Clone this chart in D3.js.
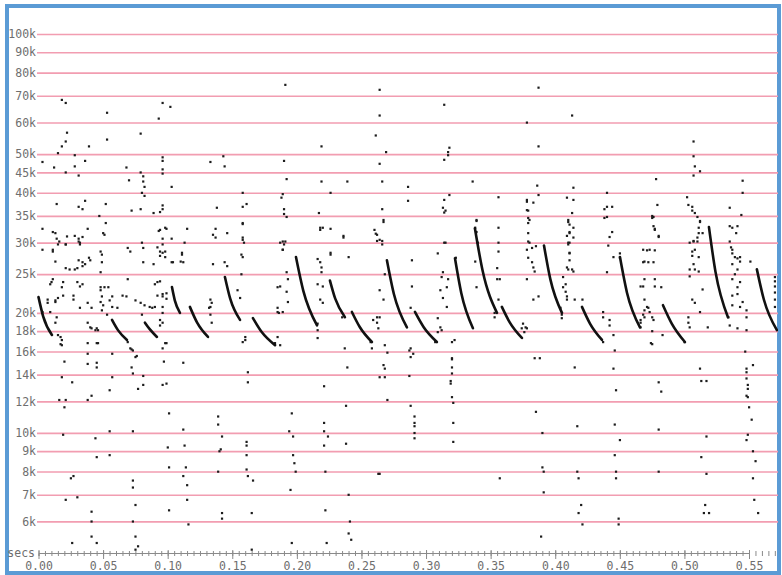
<!DOCTYPE html>
<html>
<head>
<meta charset="utf-8">
<script src="https://cdn.jsdelivr.net/npm/d3@7"></script>
<style>
  html, body { margin: 0; padding: 0; background: #fff; }
  svg { display: block; }
</style>
</head>
<body>
<div class="chart"></div>
<script>
// frequency gridlines (kHz) and time ticks (s)
const freqTicks = [100, 90, 80, 70, 60, 50, 45, 40, 35, 30, 25, 20, 18, 16, 14, 12, 10, 9, 8, 7, 6]
const timeTicks = [0, 0.05, 0.1, 0.15, 0.2, 0.25, 0.3, 0.35, 0.4, 0.45, 0.5, 0.55]
const timeMinorTicks = [
  0, 0.005, 0.01, 0.015, 0.02, 0.025, 0.03, 0.035, 0.04, 0.045, 0.05, 0.055, 0.06, 0.065, 0.07, 0.075,
  0.08, 0.085, 0.09, 0.095, 0.1, 0.105, 0.11, 0.115, 0.12, 0.125, 0.13, 0.135, 0.14, 0.145, 0.15,
  0.155, 0.16, 0.165, 0.17, 0.175, 0.18, 0.185, 0.19, 0.195, 0.2, 0.205, 0.21, 0.215, 0.22, 0.225,
  0.23, 0.235, 0.24, 0.245, 0.25, 0.255, 0.26, 0.265, 0.27, 0.275, 0.28, 0.285, 0.29, 0.295, 0.3,
  0.305, 0.31, 0.315, 0.32, 0.325, 0.33, 0.335, 0.34, 0.345, 0.35, 0.355, 0.36, 0.365, 0.37, 0.375,
  0.38, 0.385, 0.39, 0.395, 0.4, 0.405, 0.41, 0.415, 0.42, 0.425, 0.43, 0.435, 0.44, 0.445, 0.45,
  0.455, 0.46, 0.465, 0.47, 0.475, 0.48, 0.485, 0.49, 0.495, 0.5, 0.505, 0.51, 0.515, 0.52, 0.525,
  0.53, 0.535, 0.54, 0.545, 0.55, 0.555, 0.56, 0.565, 0.57
]

// echolocation calls: [secs, kHz] start / middle / end
const calls = [
  [[0.0000, 21.9], [0.0036, 19.6], [0.0104, 17.6]],
  [[0.0569, 19.2], [0.0615, 18.1], [0.0685, 17.1]],
  [[0.0824, 18.9], [0.0861, 18.2], [0.0917, 17.4]],
  [[0.1033, 23.2], [0.1055, 21.5], [0.1095, 20.0]],
  [[0.1172, 20.7], [0.1228, 18.9], [0.1312, 17.4]],
  [[0.1443, 24.6], [0.1484, 21.7], [0.1560, 19.2]],
  [[0.1660, 19.4], [0.1728, 17.9], [0.1831, 16.6]],
  [[0.1993, 27.6], [0.2050, 22.7], [0.2156, 18.6]],
  [[0.2256, 24.1], [0.2297, 21.7], [0.2372, 19.5]],
  [[0.2426, 20.1], [0.2488, 18.4], [0.2581, 16.9]],
  [[0.2697, 27.1], [0.2751, 22.3], [0.2852, 18.4]],
  [[0.2914, 20.1], [0.2982, 18.4], [0.3084, 16.9]],
  [[0.3224, 27.4], [0.3273, 22.4], [0.3363, 18.3]],
  [[0.3378, 32.6], [0.3438, 25.5], [0.3549, 20.0]],
  [[0.3587, 20.7], [0.3649, 18.9], [0.3742, 17.3]],
  [[0.3913, 29.5], [0.3962, 24.3], [0.4052, 20.0]],
  [[0.4207, 20.7], [0.4269, 18.8], [0.4362, 17.1]],
  [[0.4501, 27.6], [0.4555, 22.5], [0.4656, 18.4]],
  [[0.4834, 20.9], [0.4902, 18.8], [0.5004, 16.9]],
  [[0.5190, 32.8], [0.5241, 25.3], [0.5337, 19.5]],
  [[0.5561, 25.7], [0.5615, 21.6], [0.5716, 18.1]]
]

// scattered noise points [secs, kHz]
const dotsHigh = [
  [0.018,68.4],[0.021,67.2],[0.053,63.5],[0.096,67.2],[0.102,65.7],[0.093,61.4],[0.191,74.6],[0.264,72.5],[0.264,62.5],
  [0.022,56.6],[0.021,53.8],[0.018,52.3],[0.039,52.3],[0.053,54.4],[0.079,56.3],[0.015,50.3],[0.028,49.7],[0.028,46.6],
  [0.003,47.8],[0.012,46.3],[0.036,48.1],[0.021,45],[0.031,44.2],[0.068,46.3],[0.070,43],[0.079,45],[0.081,44],[0.081,42.7],
  [0.082,41.4],[0.080,40],[0.082,39.3],[0.096,49.1],[0.096,48.1],[0.096,45.8],[0.096,44.7],[0.103,41.4],[0.133,47.8],
  [0.143,49.4],[0.144,46.6],[0.158,40],[0.190,48.1],[0.192,43.3],[0.219,52.3],[0.219,42.7],[0.239,42.7],[0.226,40],
  [0.266,42.7],[0.264,47.3],[0.269,50.6],[0.261,55.7],
  [0.014,37.5],[0.036,38.2],[0.031,36.9],[0.034,36.4],[0.052,37.5],[0.079,36.4],[0.096,37.2],[0.096,36.4],[0.094,35.8],
  [0.089,35.6],[0.072,36.1],[0.047,35],[0.138,36.7],[0.158,36.9],[0.161,37.5],[0.188,38.9],[0.189,39.7],[0.190,36.4],
  [0.190,35.4],[0.192,34.8],[0.217,35.6],[0.266,36.4],[0.267,34.2],
  [0.003,32.5],[0.011,31.9],[0.013,31.7],[0.014,30.7],[0.016,30.2],[0.028,31.2],[0.031,30.7],[0.032,30],[0.034,31],
  [0.021,29.7],[0.050,31.7],[0.051,31.4],[0.052,33.6],[0.038,32.5],[0.093,32.1],[0.096,30.7],[0.096,29.7],[0.099,32.5],
  [0.103,30.7],[0.115,32.5],[0.080,30],[0.081,29.1],[0.137,32.5],[0.137,30.9],[0.146,31.7],[0.158,30.9],[0.159,30],
  [0.158,33.6],[0.189,30.2],[0.190,29.7],[0.189,28.8],[0.218,32.7],[0.226,32.5],[0.236,31.2],[0.260,32.3],[0.261,31.6],
  [0.262,30.3],[0.266,30.3],[0.267,33.8],[0.022,31.1],
  [0.387,73.4],[0.314,66.5],[0.413,62.5],[0.378,60],[0.387,52.3],[0.318,51.9],[0.317,50.6],[0.317,49.7],[0.314,48.4],
  [0.507,53.8],[0.507,49.4],[0.508,46.6],[0.512,45.3],[0.507,44.2],[0.286,41.4],[0.286,38.2],[0.336,42.7],[0.386,41.7],
  [0.387,39.5],[0.318,39.5],[0.314,38.4],[0.314,35.7],[0.315,36.1],[0.356,39],[0.378,38],[0.383,37.8],[0.378,36.2],
  [0.380,34.2],[0.379,33.6],[0.379,31.7],[0.380,30],[0.409,38.9],[0.413,35.6],[0.410,33.8],[0.414,32.7],[0.411,31.9],
  [0.409,31.2],[0.411,30],[0.414,41.2],[0.440,40],[0.438,36.4],[0.440,34.8],[0.444,36.9],[0.444,31.9],[0.442,31],
  [0.478,43.3],[0.479,37.3],[0.475,35],[0.476,33],[0.477,32.5],[0.480,31.2],[0.502,39],[0.503,37.3],[0.506,36.1],
  [0.508,35.6],[0.510,34.8],[0.512,34],[0.511,32.7],[0.514,31.7],[0.510,30.9],[0.507,30.3],[0.504,30],[0.545,42.9],
  [0.545,40],[0.535,36.7],[0.544,35.2],[0.535,33],[0.541,33],[0.540,31.7],[0.535,30.2],[0.314,30],[0.315,30],[0.356,30],
  [0.356,32.7],[0.339,34],[0.410,30],
  [0.476,34.8],[0.475,34.6],[0.477,32.3],[0.480,31],[0.506,36.9],[0.512,33.8],[0.511,31.7],[0.510,30.2],[0.507,30.2],
  [0.537,32.7],[0.094,32.3],[0.098,32.7],[0.113,30],[0.135,31.4],[0.158,30.5],[0.158,33.4],[0.187,30],[0.191,30.2],
  [0.218,32.3],[0.220,32.7],[0.236,30.9],[0.262,31.4],[0.264,30.5],
  [0.313,36.7],[0.339,34.2],[0.338,32.7],[0.339,31.9],[0.340,30],[0.378,38.4],[0.379,36.1],[0.379,34.6],[0.379,30.2],
  [0.410,34.2],[0.411,33.3],[0.411,31.7],[0.414,30.9],[0.414,38.4],[0.440,36.9],[0.438,34.6]
]

const dotsMid = [
  [0.003,28.8],[0.011,28.8],[0.048,28.5],[0.069,29.1],[0.071,28.5],[0.094,27.8],[0.111,28],[0.039,27.5],[0.158,27.6],
  [0.216,27.3],[0.226,28],[0.240,27.6],
  [0.382,29.1],[0.385,29.4],[0.379,27.5],[0.411,28.2],[0.441,29.5],[0.445,27.6],[0.450,28.2],[0.450,27.5],[0.468,28.8],
  [0.473,28.8],[0.477,28.7],[0.508,28.8],[0.506,27.8],[0.536,29.2],[0.537,28.2],[0.539,27.6],[0.543,27.6],[0.309,28.2],
  [0.323,27.5],[0.356,28.5],
  [0.471,28.7],[0.468,26.8],[0.472,26.8],[0.476,26.8],[0.469,24.3],[0.468,23.3],[0.477,24.3],[0.477,23.3],[0.482,23.2],
  [0.469,21.6],[0.471,20.7],[0.472,20.6],[0.473,20.1],[0.469,19.5],[0.475,19.5],[0.466,18.9],[0.476,19.2],[0.475,18],
  [0.483,17.6],[0.475,16.7],
  [0.506,28.5],[0.511,27.6],[0.507,26.5],[0.508,25.7],[0.504,25.7],[0.511,25.4],[0.504,24.7],[0.514,22.9],[0.506,21.6],
  [0.508,21.2],[0.503,19.5],[0.503,18.9],[0.504,18.4],[0.518,18.4],[0.512,20.1],
  [0.537,28.8],[0.541,27.4],[0.543,26.9],[0.537,26.5],[0.541,25.7],[0.539,25],[0.537,24.3],[0.543,23.9],[0.541,23.2],
  [0.541,22.3],[0.537,22.1],[0.545,21.3],[0.537,20.9],[0.543,20.7],[0.548,20.3],[0.534,19.5],[0.548,19.5],[0.535,18.6],
  [0.541,18.3],[0.548,18.1],[0.551,26.9],
  [0.570,24.6],[0.570,24],[0.570,23.3],[0.570,22.5],[0.570,21.6],[0.570,20.7],
  [0.015,29.7],[0.021,29.7],[0.032,29.7],[0.031,30.2],[0.011,28.5],[0.049,28],[0.092,29.2],[0.096,28.3],[0.098,28.5],
  [0.013,26.9],[0.021,25.9],[0.024,25.7],[0.034,26.8],[0.034,26.2],[0.036,26.5],[0.030,25.9],[0.049,26.8],[0.048,25.3],
  [0.081,26.8],[0.089,26.5],[0.104,26.8],[0.011,24.3],[0.010,23.9],[0.009,23.6],[0.019,23.9],[0.030,23.9],[0.032,23.3],
  [0.019,22.1],[0.027,22.1],[0.048,23.2],[0.051,23.2],[0.054,23.2],[0.049,22],[0.057,22],[0.055,21.5],[0.069,24.3],
  [0.065,22.1],[0.068,22],[0.075,21.5],[0.090,23.6],[0.092,23.9],[0.092,22.1],[0.096,22],[0.099,21.7],[0.007,21.6],
  [0.007,21.2],[0.013,21.3],[0.015,21.8],[0.027,21.6],[0.038,21.2],[0.032,20.6],[0.048,21.3],[0.050,20.9],[0.049,20.3],
  [0.057,20.7],[0.061,20.6],[0.079,21.2],[0.082,20.9],[0.086,20.7],[0.088,20.6],[0.090,20.7],[0.003,20.1],[0.009,20.1],
  [0.053,19.8],[0.080,19.8],[0.096,20],[0.014,19.5],[0.013,18.9],[0.038,18.9],[0.040,18.4],[0.041,18.3],[0.044,18.1],
  [0.046,18.1],[0.094,18.6],[0.096,18.9],[0.017,17.4],[0.018,17.1],[0.038,16.8],[0.071,16.3],[0.073,16.1],[0.096,16.3],
  [0.040,27.1],[0.031,27.1],[0.028,25.7],[0.018,23.2],[0.034,23.6],[0.048,22.8],[0.013,21.5],[0.041,20.6],[0.045,18.3],
  [0.015,17.6],[0.018,16.6],[0.046,16.8],
  [0.094,28.5],[0.098,27.6],[0.094,24],[0.096,20.7],[0.094,19.2],[0.098,16.8],[0.096,22.3],[0.099,22.4],[0.111,28.3],
  [0.110,26.9],[0.112,26.8],[0.103,26.8],[0.135,26.5],[0.133,21.6],[0.134,21.2],[0.133,20.7],[0.133,19.8],[0.134,18.9],
  [0.132,20.6],[0.144,26.8],[0.146,26.2],[0.157,28],[0.157,25],[0.156,21.8],[0.160,17.4],[0.160,17.1],[0.154,22.8],
  [0.189,28.8],[0.192,25.3],[0.187,23.3],[0.185,23.2],[0.192,22.6],[0.193,21.3],[0.185,20.6],[0.185,20.1],[0.186,20],
  [0.189,20.1],[0.193,24.3],[0.185,17.4],[0.187,16.6],[0.218,26.8],[0.219,26],[0.219,25.3],[0.226,28.3],[0.218,21.6],
  [0.220,21.2],[0.216,23.6],[0.220,23.3],[0.216,18.8],[0.216,18.1],[0.216,17.3],[0.237,16.3],[0.235,19.5],[0.266,29.7],
  [0.268,25],[0.264,22.8],[0.267,21.6],[0.262,19.5],[0.262,18.9],[0.264,19.5],[0.259,19.2],[0.263,18.3],
  [0.289,27.1],[0.289,23.3],[0.288,20.6],[0.288,16.3],[0.313,25.3],[0.312,24.6],[0.317,24.3],[0.311,22.8],[0.316,23.2],
  [0.313,21.8],[0.316,20.7],[0.309,19.4],[0.311,18.4],[0.312,18.1],[0.309,17.9],[0.322,17.1],[0.338,26.9],[0.339,23.2],
  [0.355,25.9],[0.355,24.3],[0.357,24.3],[0.356,21.6],[0.353,20],[0.353,19.5],[0.375,18.8],[0.377,18.4],[0.374,18.3],
  [0.376,17.9],[0.378,18.3],[0.378,28.8],[0.382,26.8],[0.383,26],[0.384,25.4],[0.378,24.3],[0.383,21.6],[0.387,22],
  [0.410,29.7],[0.411,28.3],[0.411,27.1],[0.409,26],[0.410,25.7],[0.413,25.7],[0.414,25.4],[0.406,24.6],[0.408,23.6],
  [0.406,23.2],[0.408,22.6],[0.409,22],[0.409,21.6],[0.415,21.6],[0.421,21.6],[0.404,20.6],[0.405,19.8],[0.405,19.4],
  [0.440,25.3],[0.437,20.1],[0.437,19.5],[0.442,19.2],[0.442,18.6],[0.445,17.6],[0.469,26.9],[0.466,23.3],[0.469,20.3],
  [0.468,19.8],[0.466,19.2],[0.466,18.4],
  [0.017,16.7],[0.045,16.8],[0.069,16.9],[0.099,16.8],[0.158,16.9],[0.183,16.8],[0.257,16.9],[0.268,16.6],[0.307,16.9],
  [0.320,16.9],[0.437,16.9],[0.474,16.8],[0.500,16.9],[0.072,16.2],[0.287,16.1],[0.446,16.1],[0.547,16],[0.258,16.3]
]

const dotsLow = [
  [0.057,15.8],[0.075,15.5],[0.076,15.6],[0.270,15.9],[0.290,15.8],[0.320,15.4],[0.388,15.4],[0.038,15.8],[0.045,15],
  [0.018,13.8],[0.026,13.4],[0.055,12.8],[0.288,15.5],[0.384,15.4],[0.320,15.3],[0.020,15.1],[0.038,14.9],[0.045,14.6],
  [0.072,14.6],[0.097,15.1],[0.112,15],[0.239,14.6],[0.267,14.8],[0.268,14.5],[0.320,14.6],[0.415,14.6],[0.445,14.5],
  [0.512,14.5],[0.548,14.5],[0.553,14.8],
  [0.057,13.8],[0.073,14.1],[0.081,13.9],[0.162,14.2],[0.162,13.4],[0.264,13.8],[0.268,13.8],[0.287,13.9],[0.320,14.1],
  [0.319,13.5],[0.319,13.3],[0.480,13.4],[0.513,13.5],[0.517,13.5],[0.548,14.2],[0.548,13.7],[0.549,13.2],
  [0.077,12.9],[0.081,13.2],[0.096,13.2],[0.099,13.3],[0.221,13.1],[0.447,12.8],[0.482,12.7],[0.549,12.9],[0.548,12.4],
  [0.016,12.1],[0.021,12.1],[0.020,11.6],[0.038,12.1],[0.041,12.4],[0.270,12.1],[0.288,11.7],[0.320,12.3],[0.321,11.9],
  [0.385,11.3],[0.549,12.3],[0.550,11.6],[0.238,11.7],
  [0.101,11.2],[0.139,11],[0.139,10.5],[0.196,11.2],[0.221,10.6],[0.291,11],[0.291,10.6],[0.291,10.4],[0.321,10.6],
  [0.417,10.4],[0.446,10.5],[0.480,10.2],[0.552,10.8],
  [0.019,9.9],[0.044,9.7],[0.055,10.1],[0.073,10.1],[0.112,10.2],[0.142,9.8],[0.194,10.1],[0.197,9.8],[0.221,10.1],
  [0.224,9.8],[0.291,10],[0.291,9.7],[0.321,9.5],[0.390,10],[0.450,9.6],[0.517,9.8],[0.549,9.9],[0.548,9.6],
  [0.100,9.2],[0.113,9.3],[0.140,9],[0.141,9.1],[0.161,9.5],[0.161,9.3],[0.221,9.3],[0.238,9.4],[0.045,8.7],[0.055,8.8],
  [0.161,8.8],[0.197,8.8],[0.446,8.8],[0.513,8.7],[0.553,9],[0.555,8.5],
  [0.101,8.2],[0.114,8.2],[0.161,8.1],[0.198,8.4],[0.139,8],[0.199,8],[0.222,8],[0.263,7.9],[0.264,7.9],[0.390,8.2],
  [0.391,8],[0.417,8],[0.447,8],[0.480,8],[0.517,7.9],[0.357,7.7],
  [0.025,7.7],[0.027,7.8],[0.073,7.6],[0.112,7.8],[0.115,7.4],[0.162,7.8],[0.166,7.6],[0.418,7.7],[0.447,7.7],[0.553,7.7],
  [0.073,7.3],[0.021,6.8],[0.030,6.9],[0.115,6.8],[0.195,7.2],[0.240,7],[0.391,7.1],
  [0.041,6.35],[0.075,6.6],[0.101,6.4],[0.142,6.3],[0.142,6.1],[0.165,6.3],[0.222,6.4],[0.420,6.6],[0.516,6.6],
  [0.519,6.3],[0.554,6.8],
  [0.041,6],[0.073,6],[0.116,5.9],[0.241,6],[0.418,6.3],[0.421,5.9],[0.449,6.1],[0.449,5.9],[0.515,6.3],[0.557,6.3],
  [0.240,5.6],[0.242,5.4],[0.026,5.3],[0.041,5.5],[0.045,5.3],[0.075,5.5],[0.077,5.2],[0.075,5.1],[0.196,5.3],
  [0.223,5.3],[0.389,5.5],[0.165,5.1]
]

;(function init() {
  const width = 782
  const height = 575
  const left = 37
  const right = 778
  const top = 8
  const bottom = 553
  const labelFont = '"DejaVu Sans Mono", monospace'
  const labelColor = '#6e6e6e'

  const xScale = d3.scaleLinear().domain([0, 0.55]).range([38.5, 749])
  const yScale = d3.scaleLog().domain([5, 100]).range([bottom, 34])

  const svg = d3
    .select('.chart')
    .append('svg')
    .attr('width', width)
    .attr('height', height)

  svg
    .append('rect')
    .attr('width', width)
    .attr('height', height)
    .attr('fill', '#fff')

  // blue frame
  svg
    .append('rect')
    .attr('x', 7)
    .attr('y', 6)
    .attr('width', 772)
    .attr('height', 567)
    .attr('fill', 'none')
    .attr('stroke', '#5b9bd5')
    .attr('stroke-width', 4)

  svg
    .append('clipPath')
    .attr('id', 'plot')
    .append('rect')
    .attr('x', left)
    .attr('y', top)
    .attr('width', right - left)
    .attr('height', bottom - top)

  // frequency gridlines + labels
  const yAxis = d3
    .axisLeft(yScale)
    .tickValues(freqTicks)
    .tickSize(-(right - left))
    .tickPadding(1)
    .tickFormat((d) => d + 'k')

  const gy = svg
    .append('g')
    .attr('transform', 'translate(' + left + ',0)')
    .call(yAxis)
  gy.select('.domain').remove()
  gy.selectAll('.tick line')
    .attr('stroke', '#f29db1')
    .attr('stroke-width', 1.6)
  gy.selectAll('.tick text')
    .style('font-family', labelFont)
    .style('font-size', '11.5px')
    .attr('fill', labelColor)

  // time axis
  const gxMinor = svg
    .append('g')
    .attr('transform', 'translate(0,' + bottom + ')')
    .call(d3.axisBottom(xScale).tickValues(timeMinorTicks).tickSize(3).tickFormat(''))
  gxMinor.select('.domain').attr('stroke', '#8a8a8a')
  gxMinor.selectAll('.tick line').attr('y1', -2).attr('stroke', '#8a8a8a')

  const gx = svg
    .append('g')
    .attr('transform', 'translate(0,' + bottom + ')')
    .call(
      d3
        .axisBottom(xScale)
        .tickValues(timeTicks)
        .tickSize(6)
        .tickPadding(3)
        .tickFormat(d3.format('.2f'))
    )
  gx.select('.domain').remove()
  gx.selectAll('.tick line').attr('y1', -3).attr('stroke', '#8a8a8a')
  gx.selectAll('.tick text')
    .style('font-family', labelFont)
    .style('font-size', '11.5px')
    .attr('fill', labelColor)

  svg
    .append('text')
    .attr('x', 35)
    .attr('y', 557)
    .attr('text-anchor', 'end')
    .style('font-family', labelFont)
    .style('font-size', '11.5px')
    .attr('fill', labelColor)
    .text('secs')

  const plot = svg.append('g').attr('clip-path', 'url(#plot)')

  const dots = dotsHigh.concat(dotsMid, dotsLow)
  plot
    .selectAll('rect.dot')
    .data(dots)
    .enter()
    .append('rect')
    .attr('class', 'dot')
    .attr('x', (d) => xScale(d[0]) - 1)
    .attr('y', (d) => yScale(d[1]) - 1)
    .attr('width', 2.2)
    .attr('height', 2.2)
    .attr('fill', '#1c1c1c')

  const line = d3
    .line()
    .x((d) => xScale(d[0]))
    .y((d) => yScale(d[1]))
    .curve(d3.curveMonotoneX)

  plot
    .selectAll('path.call')
    .data(calls)
    .enter()
    .append('path')
    .attr('class', 'call')
    .attr('d', line)
    .attr('fill', 'none')
    .attr('stroke', '#111')
    .attr('stroke-width', 2.6)
    .attr('stroke-linecap', 'round')
})()
</script>
</body>
</html>
